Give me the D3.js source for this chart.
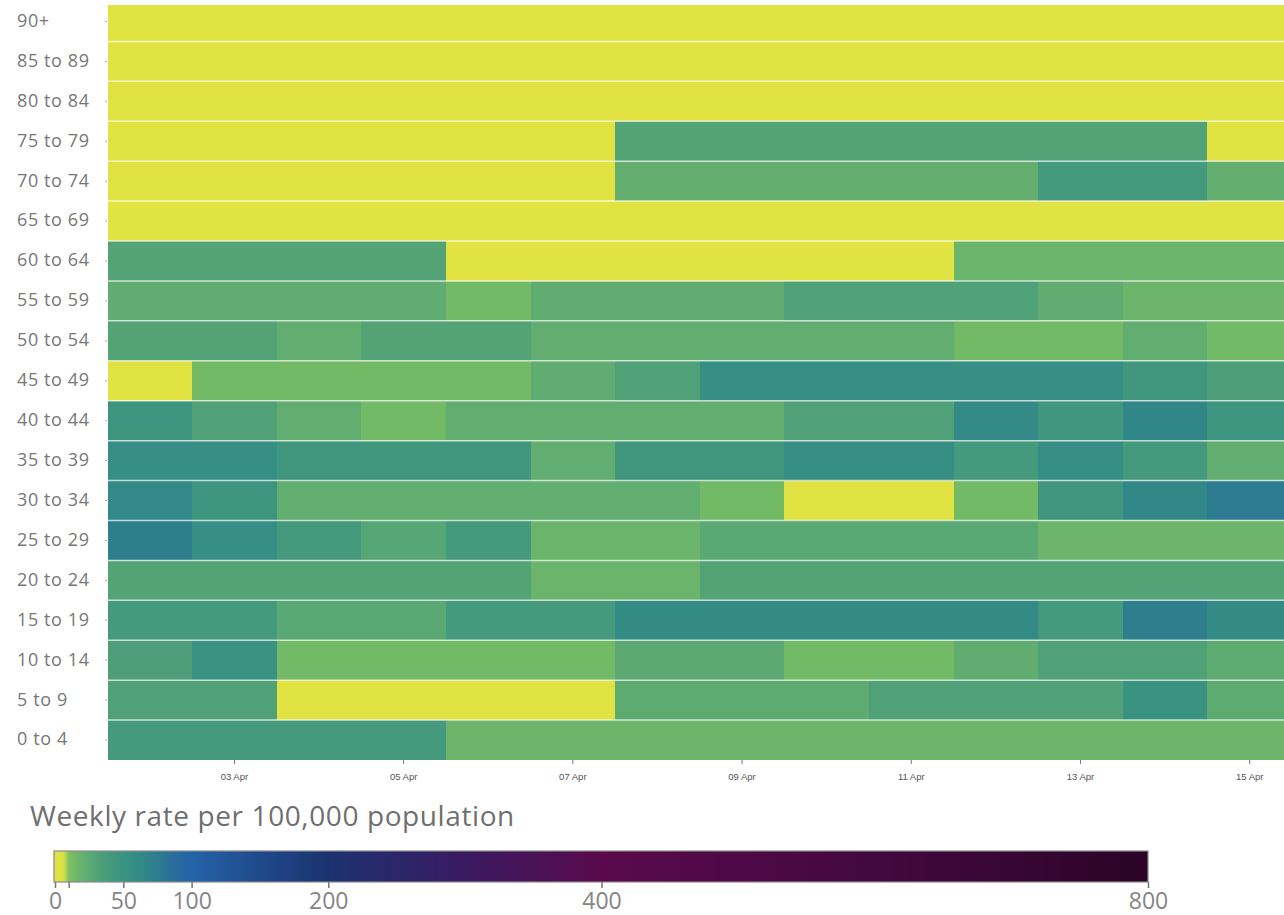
<!DOCTYPE html>
<html>
<head>
<meta charset="utf-8">
<script src="https://cdn.jsdelivr.net/npm/d3@7"></script>
<style>
  html, body { margin: 0; padding: 0; background: #fff; overflow: hidden; }
  svg { display: block; }
</style>
</head>
<body>
<svg id="chart" width="1284" height="915"></svg>
<script>
// ---------- data ----------
const dates = ["02 Apr","03 Apr","04 Apr","05 Apr","06 Apr","07 Apr","08 Apr",
               "09 Apr","10 Apr","11 Apr","12 Apr","13 Apr","14 Apr","15 Apr"];
const tickDates = ["03 Apr","05 Apr","07 Apr","09 Apr","11 Apr","13 Apr","15 Apr"];
const ageGroups = ["0 to 4","5 to 9","10 to 14","15 to 19","20 to 24","25 to 29","30 to 34",
                   "35 to 39","40 to 44","45 to 49","50 to 54","55 to 59","60 to 64",
                   "65 to 69","70 to 74","75 to 79","80 to 84","85 to 89","90+"];

// weekly rate per 100,000 (0 = none / suppressed)
const rate_0to4   = [40,40,40,40,17,17,17,17,17,17,17,17,17,17];
const rate_5to9   = [33,33,0,0,0,0,24,24,24,33,33,33,50,24];
const rate_10to14 = [35,50,14,14,14,14,25,25,14,14,23,33,33,24];
const rate_15to19 = [40,40,26,26,40,40,60,60,60,60,60,40,74,60];
const rate_20to24 = [31,31,31,31,31,18,18,31,31,31,31,31,31,31];
const rate_25to29 = [73,56,40,28,40,18,18,26,26,26,26,17,17,17];
const rate_30to34 = [63,46,22,22,22,22,22,14,0,0,14,45,64,76];
const rate_35to39 = [56,56,44,44,44,22,44,44,57,57,40,57,40,22];
const rate_40to44 = [46,33,22,14,22,22,22,22,33,33,62,45,66,46];
const rate_45to49 = [0,14,14,14,14,23,33,56,56,56,56,56,44,34];
const rate_50to54 = [31,31,22,31,31,22,22,22,22,22,14,14,22,14];
const rate_55to59 = [23,23,23,23,14,23,23,23,33,33,33,23,17,17];
const rate_60to64 = [31,31,31,31,0,0,0,0,0,0,18,18,18,18];
const rate_65to69 = [0,0,0,0,0,0,0,0,0,0,0,0,0,0];
const rate_70to74 = [0,0,0,0,0,0,21,21,21,21,21,40,40,21];
const rate_75to79 = [0,0,0,0,0,0,31,31,31,31,31,31,31,0];
const rate_80to84 = [0,0,0,0,0,0,0,0,0,0,0,0,0,0];
const rate_85to89 = [0,0,0,0,0,0,0,0,0,0,0,0,0,0];
const rate_90plus = [0,0,0,0,0,0,0,0,0,0,0,0,0,0];

const rates = [rate_0to4, rate_5to9, rate_10to14, rate_15to19, rate_20to24, rate_25to29,
               rate_30to34, rate_35to39, rate_40to44, rate_45to49, rate_50to54, rate_55to59,
               rate_60to64, rate_65to69, rate_70to74, rate_75to79, rate_80to84, rate_85to89,
               rate_90plus];

const colorStops  = [0, 6, 10, 15, 26, 40, 50, 62, 73, 85, 100, 150, 200, 300, 400, 600, 800];
const colorValues = ["#e1e342","#dbe144","#80c062","#70b868","#5aa874","#45997c","#3a9281",
                     "#338a86","#2e7f8c","#2a6f9a","#2463a8","#1f4a8a","#1c3270","#3a1a62",
                     "#5a0a4c","#430840","#2b0427"];
const legendTicks = [0, 10, 50, 100, 200, 400, 800];
const legendLabels = [0, 50, 100, 200, 400, 800];

// ---------- build ----------
const cells = [];
ageGroups.forEach((g, i) => dates.forEach((d, j) => cells.push({ group: g, date: d, idx: j, value: rates[i][j] })));

const svg = d3.select("#chart");
const color = d3.scaleLinear().domain(colorStops).range(colorValues).interpolate(d3.interpolateRgb).clamp(true);

const x = d3.scaleBand().domain(dates).range([107.5, 1292]).padding(0);
const y = d3.scaleBand().domain(ageGroups).range([760, 1.5]).padding(0);
const xLeft = d => Math.round(x(d.date));
const xRight = d => Math.round(x(d.date) + x.bandwidth());

const defs = svg.append("defs");
defs.append("clipPath").attr("id", "plotclip")
  .append("rect").attr("x", 108).attr("y", 5).attr("width", 1200).attr("height", 755);

const plot = svg.append("g").attr("clip-path", "url(#plotclip)");
plot.selectAll("rect.cell").data(cells).join("rect")
  .attr("class", "cell")
  .attr("shape-rendering", "crispEdges")
  .attr("x", d => xLeft(d))
  .attr("y", d => Math.round(y(d.group)))
  .attr("width", d => xRight(d) - xLeft(d))
  .attr("height", d => Math.round(y(d.group) + y.bandwidth()) - Math.round(y(d.group)))
  .attr("fill", d => color(d.value));

// row separators
plot.selectAll("line.sep").data(ageGroups.slice(1)).join("line")
  .attr("class", "sep")
  .attr("x1", 107.5).attr("x2", 1292)
  .attr("y1", d => y(d) + y.bandwidth()).attr("y2", d => y(d) + y.bandwidth())
  .attr("stroke", "#ffffff").attr("stroke-opacity", 0.7).attr("stroke-width", 1.5);

// x axis
const xAxis = svg.append("g").attr("transform", "translate(0,760)")
  .call(d3.axisBottom(x).tickValues(tickDates).tickSize(4).tickPadding(9));
xAxis.select(".domain").remove();
xAxis.selectAll(".tick line").attr("stroke", "#777");
xAxis.selectAll("text").attr("font-family", "Liberation Sans, Arial, sans-serif")
  .attr("font-size", 9.5).attr("fill", "#555");

// y axis
const yAxis = svg.append("g").attr("transform", "translate(107,0)")
  .call(d3.axisLeft(y).tickSize(2).tickPadding(0));
yAxis.select(".domain").remove();
yAxis.selectAll(".tick line").attr("stroke", "#aaa");
yAxis.selectAll("text")
  .attr("x", -90).attr("dy", "0.3em")
  .attr("text-anchor", "start")
  .attr("font-family", "Open Sans, sans-serif")
  .attr("font-size", 18).attr("letter-spacing", 0.6).attr("fill", "#777");

// legend title
svg.append("text").attr("x", 30).attr("y", 826)
  .attr("font-family", "Open Sans, sans-serif").attr("font-size", 28).attr("letter-spacing", 0.6)
  .attr("fill", "#6f6f6f").text("Weekly rate per 100,000 population");

// colour bar
const lx = d3.scaleLinear().domain([0, 800]).range([55, 1148]);
const grad = defs.append("linearGradient").attr("id", "lgrad")
  .attr("x1", "0%").attr("x2", "100%").attr("y1", "0%").attr("y2", "0%");
const samples = d3.range(0, 801, 2);
grad.selectAll("stop").data(samples).join("stop")
  .attr("offset", d => ((lx(d) - 54) / (1148 - 54) * 100) + "%")
  .attr("stop-color", d => color(d));

svg.append("rect").attr("x", 54).attr("y", 851).attr("width", 1148 - 54).attr("height", 31)
  .attr("fill", "url(#lgrad)").attr("stroke", "#8a8a8a").attr("stroke-width", 1.2);

const lAxis = svg.append("g").attr("transform", "translate(0,882)")
  .call(d3.axisBottom(lx).tickValues(legendTicks).tickSize(6).tickPadding(5)
        .tickFormat(d => legendLabels.includes(d) ? d : ""));
lAxis.select(".domain").remove();
lAxis.selectAll(".tick line").attr("stroke", "#777").attr("stroke-width", 1.5);
lAxis.selectAll("text").attr("font-family", "Open Sans, sans-serif")
  .attr("font-size", 23).attr("fill", "#858585");
</script>
</body>
</html>
